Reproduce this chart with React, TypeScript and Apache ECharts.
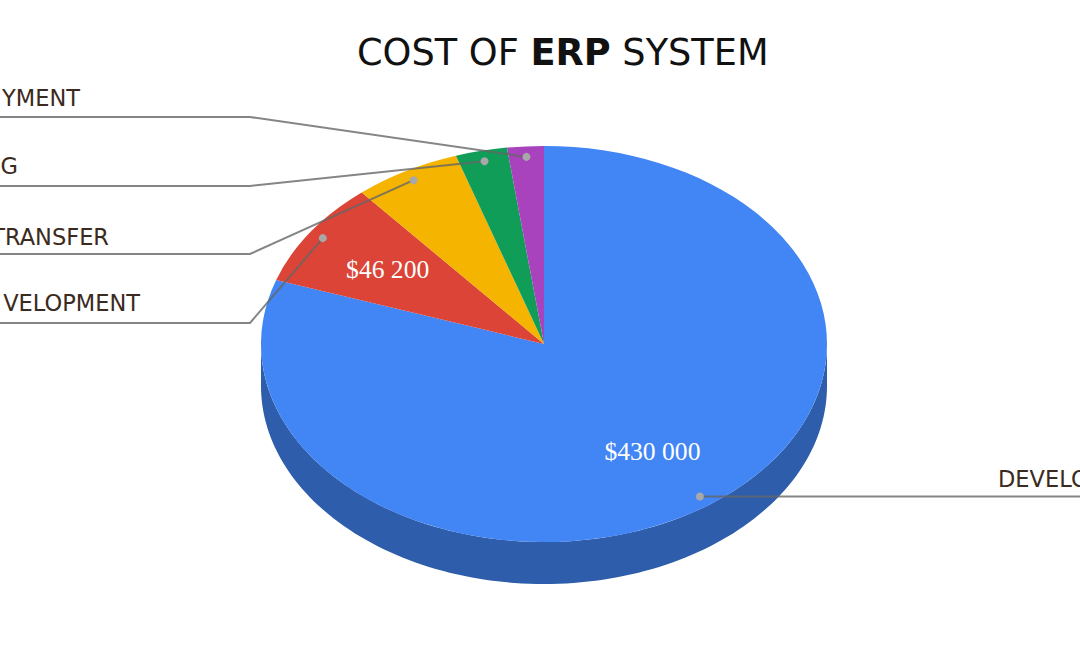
import React, { useEffect, useRef } from "react";
import * as echarts from "echarts";

// ---- data, clockwise from 12 o'clock
const sliceNames = ["DEVELO", "VELOPMENT", "TRANSFER", "G", "YMENT"];
const sliceValues = [430000, 46200, 32700, 15800, 11200];
const valueLabels = ["$430 000", "$46 200", "", "", ""];
const sliceColors = ["#4285f4", "#db4437", "#f4b400", "#0f9d58", "#a843bd"];
const titleParts = ["COST OF ", "ERP", " SYSTEM"];

// ---- layout
const CX = 544, CY = 344, RX = 283, RY = 198, DEPTH = 42;
const DOT_R = 0.947, LABEL_R = 0.665;
const FONT = '"DejaVu Sans"';
const LABEL_SIZE = 22.5;
const leaderElbowX = [null, 250, 250, 250, 250];
const leaderY = [496, 323, 254, 186, 117];
const nameX = [998, 140, 109, 18, 80];
const nameY = [479, 303, 237, 166, 98];
const nameAlign = ["left", "right", "right", "right", "right"];

const total = sliceValues.reduce((a, b) => a + b, 0);
const toTheta = (v: number) => (v / total) * Math.PI * 2;
const bounds: number[] = [0];
sliceValues.forEach((v, i) => bounds.push(bounds[i] + toTheta(v)));
const pt = (theta: number, r = 1, dy = 0): [number, number] => [
  CX + RX * r * Math.sin(theta),
  CY - RY * r * Math.cos(theta) + dy,
];
const midTheta = (i: number) => (bounds[i] + bounds[i + 1]) / 2;
const darken = (hex: string) => {
  const n = parseInt(hex.slice(1), 16);
  const f = (c: number) => Math.round(c * 0.7);
  return `rgb(${f((n >> 16) & 255)},${f((n >> 8) & 255)},${f(n & 255)})`;
};

const renderSide = (params: any) => {
  const i = params.dataIndex;
  const a = Math.max(bounds[i], Math.PI / 2);
  const b = Math.min(bounds[i + 1], (Math.PI * 3) / 2);
  if (b <= a) return { type: "group", children: [] };
  const steps = 120;
  const upper: [number, number][] = [];
  const lower: [number, number][] = [];
  for (let k = 0; k <= steps; k++) {
    const t = a + ((b - a) * k) / steps;
    upper.push(pt(t));
    lower.unshift(pt(t, 1, DEPTH));
  }
  return {
    type: "polygon",
    shape: { points: upper.concat(lower) },
    style: { fill: darken(sliceColors[i]) },
  };
};

const renderTop = (params: any) => {
  const i = params.dataIndex;
  return {
    type: "sector",
    x: CX,
    y: CY,
    scaleX: 1,
    scaleY: RY / RX,
    shape: {
      cx: 0,
      cy: 0,
      r0: 0,
      r: RX,
      startAngle: bounds[i] - Math.PI / 2,
      endAngle: bounds[i + 1] - Math.PI / 2,
      clockwise: true,
    },
    style: { fill: sliceColors[i] },
  };
};

const renderValueText = (params: any) => {
  const i = params.dataIndex;
  const [x, y] = pt(midTheta(i), LABEL_R);
  return {
    type: "text",
    style: {
      text: valueLabels[i],
      x: x - 1,
      y,
      align: "center",
      verticalAlign: "middle",
      fill: "#ffffff",
      font: '25.6px "Liberation Serif"',
    },
  };
};

const renderLeader = (params: any) => {
  const i = params.dataIndex;
  const [dx, dy] = pt(midTheta(i), DOT_R);
  const elbow = leaderElbowX[i];
  const points =
    elbow === null
      ? [[dx, dy], [1080, dy]]
      : [[dx, dy], [elbow, leaderY[i]], [0, leaderY[i]]];
  return {
    type: "group",
    children: [
      {
        type: "polyline",
        shape: { points },
        style: { stroke: "#666666", lineWidth: 2, fill: "none", opacity: 0.8 },
      },
      {
        type: "circle",
        shape: { cx: dx, cy: dy, r: 4 },
        style: { fill: "#a8a8a8" },
      },
      {
        type: "text",
        style: {
          text: sliceNames[i],
          x: nameX[i],
          y: nameY[i],
          align: nameAlign[i],
          verticalAlign: "middle",
          fill: "#3b2a20",
          font: `${LABEL_SIZE}px ${FONT}`,
        },
      },
    ],
  };
};

export default function App() {
  const ref = useRef<HTMLDivElement>(null);
  useEffect(() => {
    const chart = echarts.init(ref.current!, undefined, { renderer: "svg" });
    const base = { type: "custom", coordinateSystem: "none", data: sliceValues, silent: true };
    chart.setOption({
      animation: false,
      backgroundColor: "#ffffff",
      title: {
        left: 352,
        top: 29,
        text: `{a|${titleParts[0]}}{b|${titleParts[1]}}{a|${titleParts[2]}}`,
        textStyle: {
          rich: {
            a: { fontFamily: FONT, fontSize: 36.7, color: "#111111", fontWeight: "normal" },
            b: { fontFamily: FONT, fontSize: 36.7, color: "#111111", fontWeight: "bold" },
          },
        },
      },
      series: [
        { ...base, name: "side", z: 1, renderItem: renderSide },
        { ...base, name: "top", z: 2, renderItem: renderTop },
        { ...base, name: "leaders", z: 3, renderItem: renderLeader },
        { ...base, name: "values", z: 4, renderItem: renderValueText },
      ],
    });
    return () => chart.dispose();
  }, []);
  return <div ref={ref} style={{ position: "fixed", left: 0, top: 0, width: 1080, height: 648 }} />;
}
